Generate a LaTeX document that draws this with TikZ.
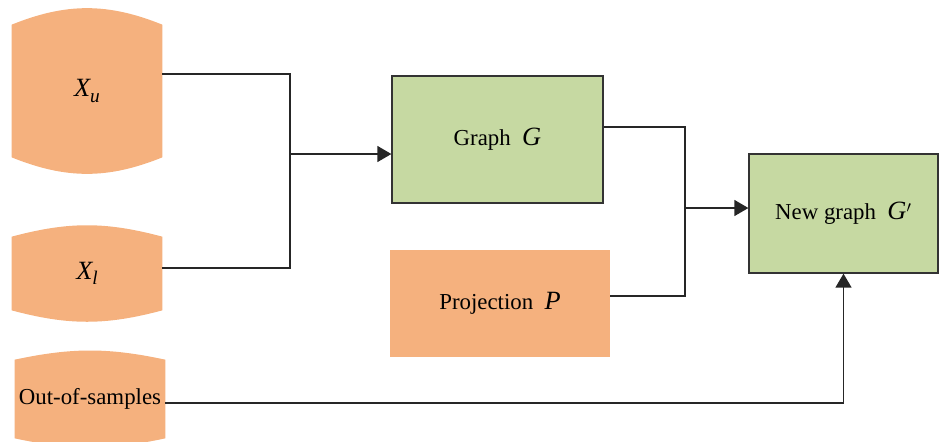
\documentclass[tikz,border=0pt]{standalone}
\usepackage{fontspec}
\setmainfont{Liberation Serif}
\usetikzlibrary{arrows.meta,backgrounds}
\definecolor{peach}{HTML}{F5B17E}
\definecolor{sage}{HTML}{C6D9A2}
\newcommand{\mvar}[1]{{\fontsize{15}{17}\selectfont\itshape #1}}
\newcommand{\msub}[2]{\mvar{#1}\raisebox{-0.5ex}{\fontsize{11}{13}\selectfont\itshape #2}}

\begin{document}
\begin{tikzpicture}[x=0.02cm, y=-0.02cm,
      font=\fontsize{13}{15}\selectfont,
      datablock/.style={inner sep=0pt, minimum width=3cm},
      greenbox/.style={draw=black!80, line width=0.75pt, fill=sage},
      projbox/.style={fill=peach, minimum width=4.4cm, minimum height=2.14cm},
      link/.style={line width=0.8pt, black!85},
      arrowlink/.style={link, -{Triangle[length=2.8mm, width=3.2mm]}}]
      \useasboundingbox (0,0) rectangle (941,441);
      \node[datablock, minimum height=2.64cm] (xu) at (87,91) {\msub{X}{u}};
      \node[datablock, minimum height=1.46cm] (xl) at (87,273.5) {\msub{X}{l}};
      \node[datablock, minimum height=1.56cm] (out) at (90,399) {Out-of-samples};
      \begin{scope}[on background layer]
        \foreach \blk/\bnd in {xu/22, xl/15, out/12} {%
          \fill[peach] (\blk.south west) -- (\blk.north west)
            to[bend left=\bnd] (\blk.north east) -- (\blk.south east)
            to[bend left=\bnd] (\blk.south west);
        }
      \end{scope}
      \node[greenbox, minimum width=4.22cm, minimum height=2.54cm] (graph) at (497.5,139.5) {Graph\enspace\mvar{G}};
      \node[projbox] (proj) at (500,303.5) {Projection\enspace\mvar{P}};
      \node[greenbox, minimum width=3.78cm, minimum height=2.38cm] (newg) at (843.5,213.5) {New graph\enspace\mvar{G}$'$};
      \coordinate (j1) at (290,154);
      \coordinate (j2) at (685,208);
      \draw[link] ([yshift=0.34cm]xu.east) -| (j1) |- ([yshift=0.11cm]xl.east);
      \draw[arrowlink] (j1) -- (j1 -| graph.west);
      \draw[link] ([yshift=0.25cm]graph.east) -| (j2) |- ([yshift=0.15cm]proj.east);
      \draw[arrowlink] (j2) -- (j2 -| newg.west);
      \draw[arrowlink] ([yshift=-0.08cm]out.east) -| (newg.south);
    \end{tikzpicture}
\end{document}
